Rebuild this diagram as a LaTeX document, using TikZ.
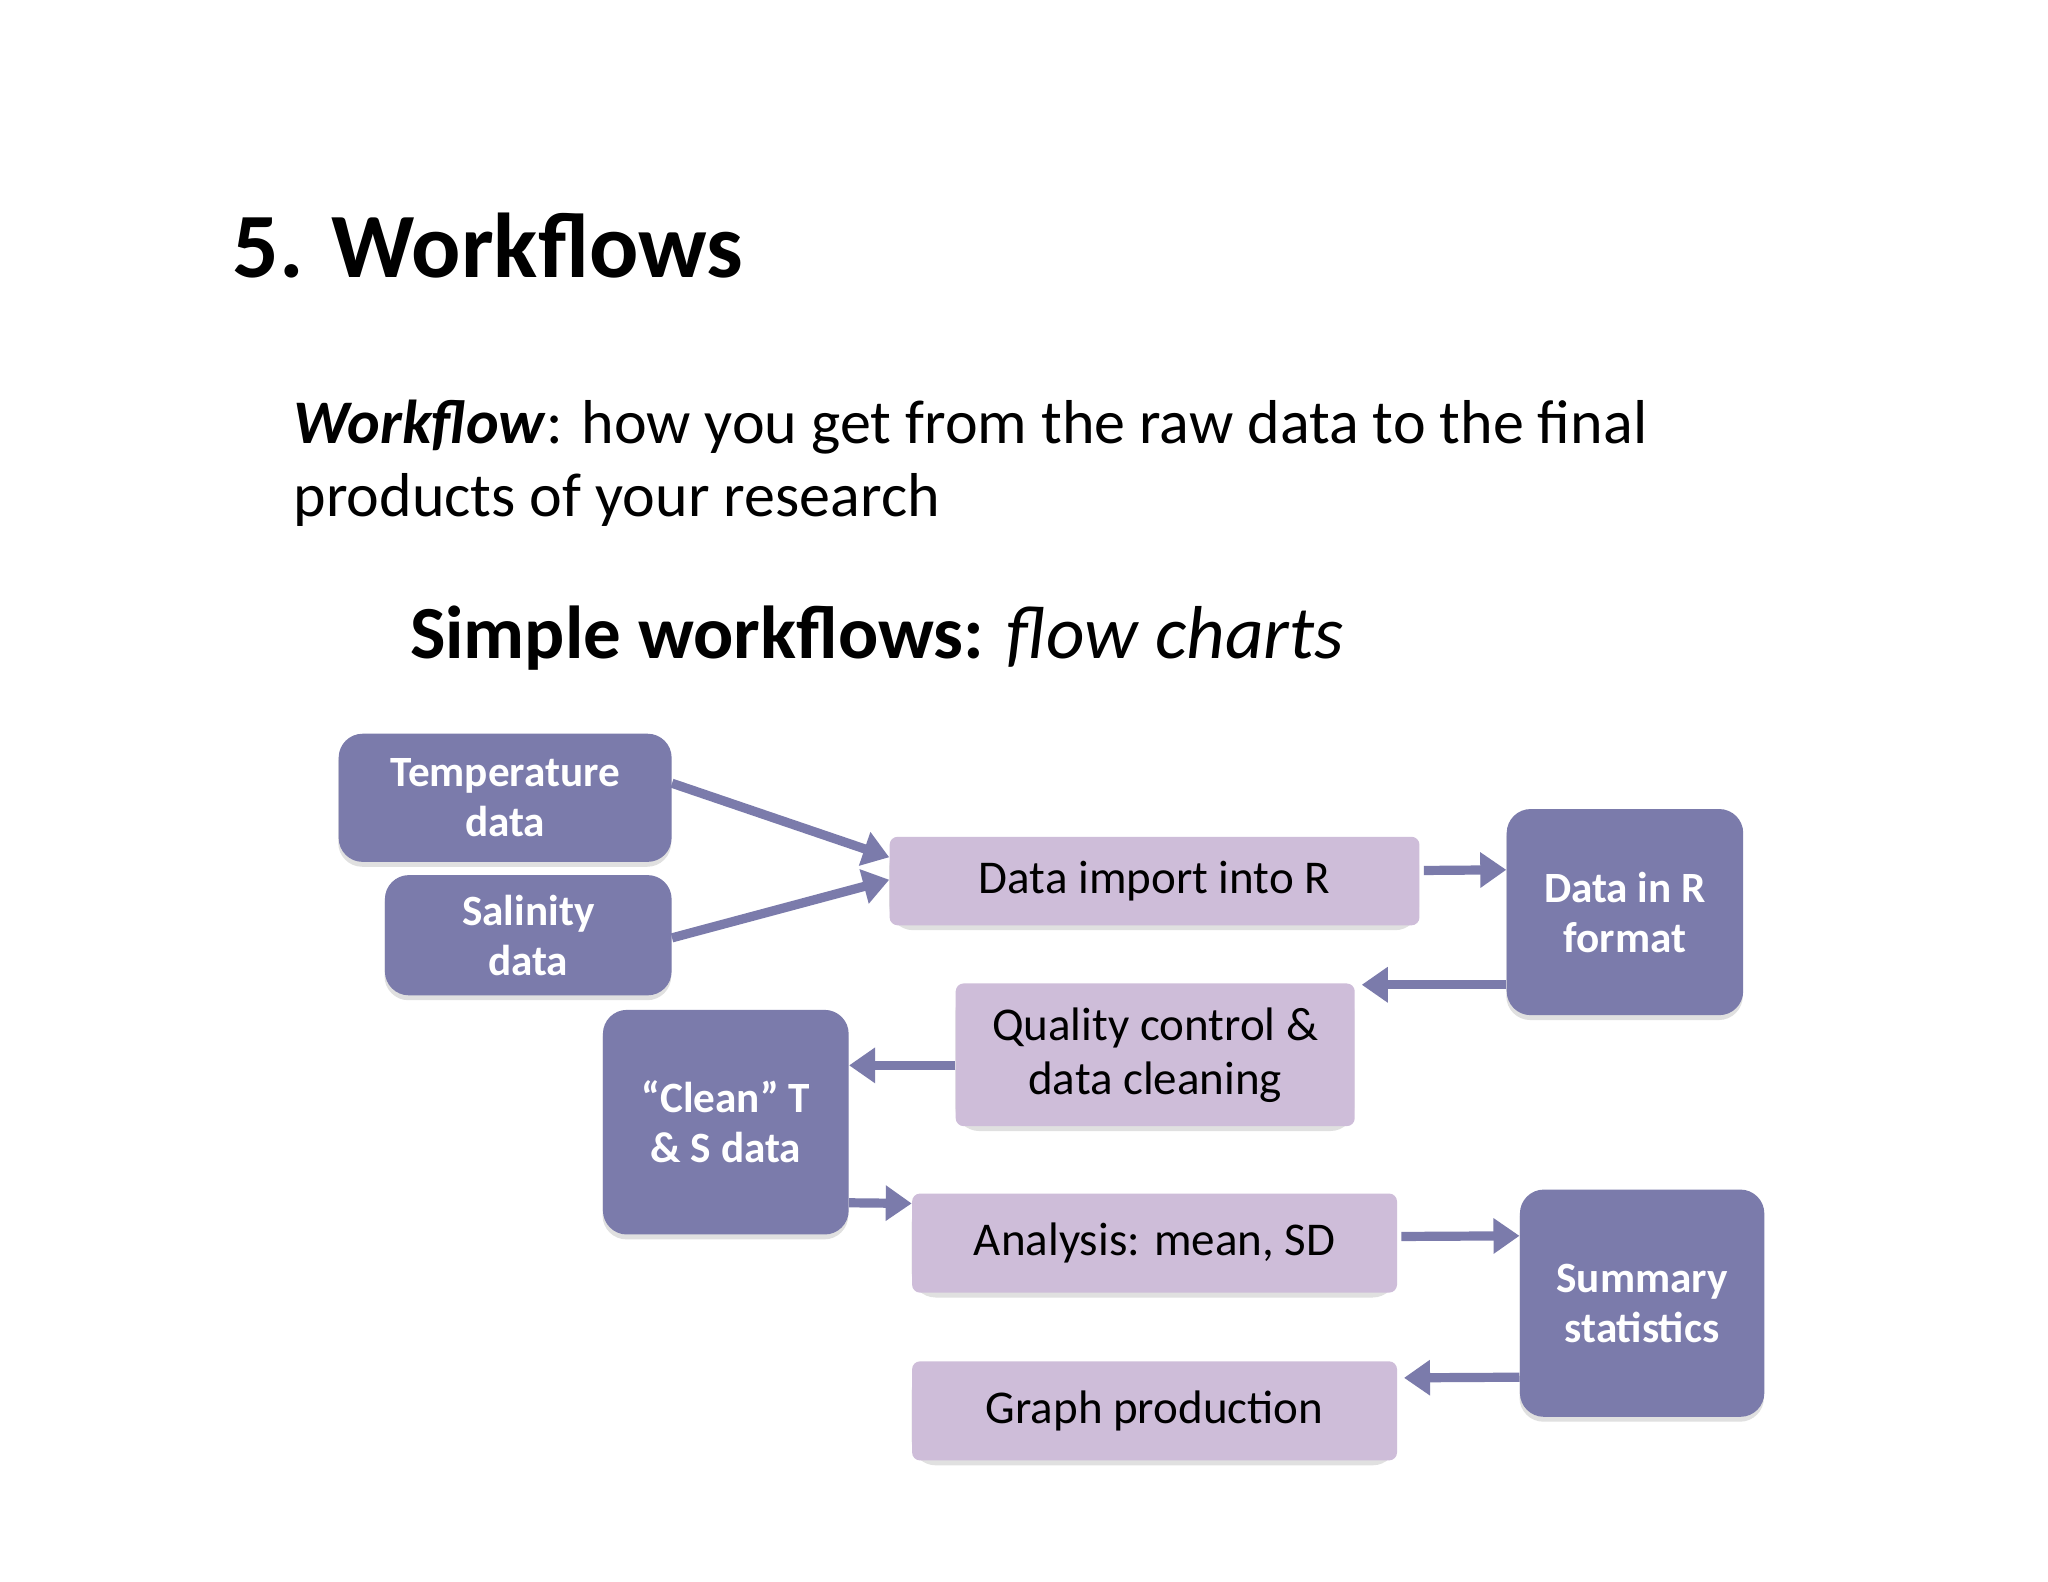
\documentclass[tikz,border=0pt]{standalone}
\usepackage{fontspec}
\setmainfont{Carlito}
\usetikzlibrary{arrows.meta,calc}
\definecolor{dk}{HTML}{7B7BAB}
\definecolor{lt}{HTML}{CEBDD9}
\begin{document}
\begin{tikzpicture}[x=0.6606pt,y=-0.6606pt,
 dkbox/.style={fill=dk,rounded corners=12pt,inner sep=0pt},
 ltbox/.style={fill=lt,rounded corners=4pt,inner sep=0pt},
 dkt/.style={text=white,font=\fontsize{21.6}{25}\selectfont\bfseries,align=center},
 ltt/.style={text=black,font=\fontsize{23.5}{27}\selectfont,align=center},
 arr/.style={draw=dk,line width=4.6pt,-{Triangle[length=13pt,width=17pt]}}]
\useasboundingbox (0,0) rectangle (1550,1197);
\fill[white] (0,0) rectangle (1550,1197);
\newcommand\bx[6]{%
 \fill[black!12,rounded corners=12pt] (#3,#4+4) rectangle (#5,#6+4);
 \node[#2,minimum width={(#5-#3)*0.6606pt},minimum height={(#6-#4)*0.6606pt},anchor=north west] (#1) at (#3,#4) {};}
\bx{t}{dkbox}{256}{555}{508}{652}
\node[dkt] at (t) {Temperature\\data};
\bx{s}{dkbox}{291}{662}{508}{753}
\node[dkt] at (s) {Salinity\\data};
\bx{imp}{ltbox}{673}{633}{1074}{700}
\node[ltt] at (imp) {Data import into R};
\bx{dr}{dkbox}{1140}{612}{1319}{768}
\node[dkt] at (dr) {Data in R\\format};
\bx{qc}{ltbox}{723}{744}{1025}{852}
\node[ltt] at (qc) {Quality control \&\\data cleaning};
\bx{cl}{dkbox}{456}{764}{642}{934}
\node[dkt] at (cl) {“Clean” T\\\& S data};
\bx{an}{ltbox}{690}{903}{1057}{978}
\node[ltt] at (an) {Analysis: mean, SD};
\bx{su}{dkbox}{1150}{900}{1335}{1072}
\node[dkt] at (su) {Summary\\statistics};
\bx{gr}{ltbox}{690}{1030}{1057}{1105}
\node[ltt] at (gr) {Graph production};
\draw[arr] ($(t.east)+(0,-11)$) -- ($(imp.west)+(0,-18)$);
\draw[arr] ($(s.east)+(0,2)$) -- ($(imp.west)+(0,-1)$);
\draw[arr] ($(imp.east)+(3,-8)$) -- ($(dr.west)+(0,-32)$);
\draw[arr] ($(dr.west)+(0,55)$) -- ($(qc.east)+(5,-53)$);
\draw[arr] ($(qc.west)+(0,8)$) -- ($(cl.east)+(0,-43)$);
\draw[arr] ($(cl.east)+(0,61)$) -- ($(an.west)+(0,-30)$);
\draw[arr] ($(an.east)+(3,-5)$) -- ($(su.west)+(0,-51)$);
\draw[arr] ($(su.west)+(0,56)$) -- ($(gr.east)+(5,-25)$);
\node[anchor=base west,font=\fontsize{46}{52}\selectfont\bfseries,inner sep=0pt] (ti) at (176,210) {5. Workflows};
\node[anchor=base west,font=\fontsize{31}{38}\selectfont,inner sep=0pt] (b1) at (222,336) {\textbf{\textit{Workflow}}: how you get from the raw data to the final};
\node[anchor=base west,font=\fontsize{31}{38}\selectfont,inner sep=0pt] (b2) at (222,391) {products of your research};
\node[anchor=base west,font=\fontsize{37.5}{44}\selectfont,inner sep=0pt] (st) at (310,498) {\textbf{Simple workflows:} \textit{flow charts}};
\end{tikzpicture}
\end{document}
